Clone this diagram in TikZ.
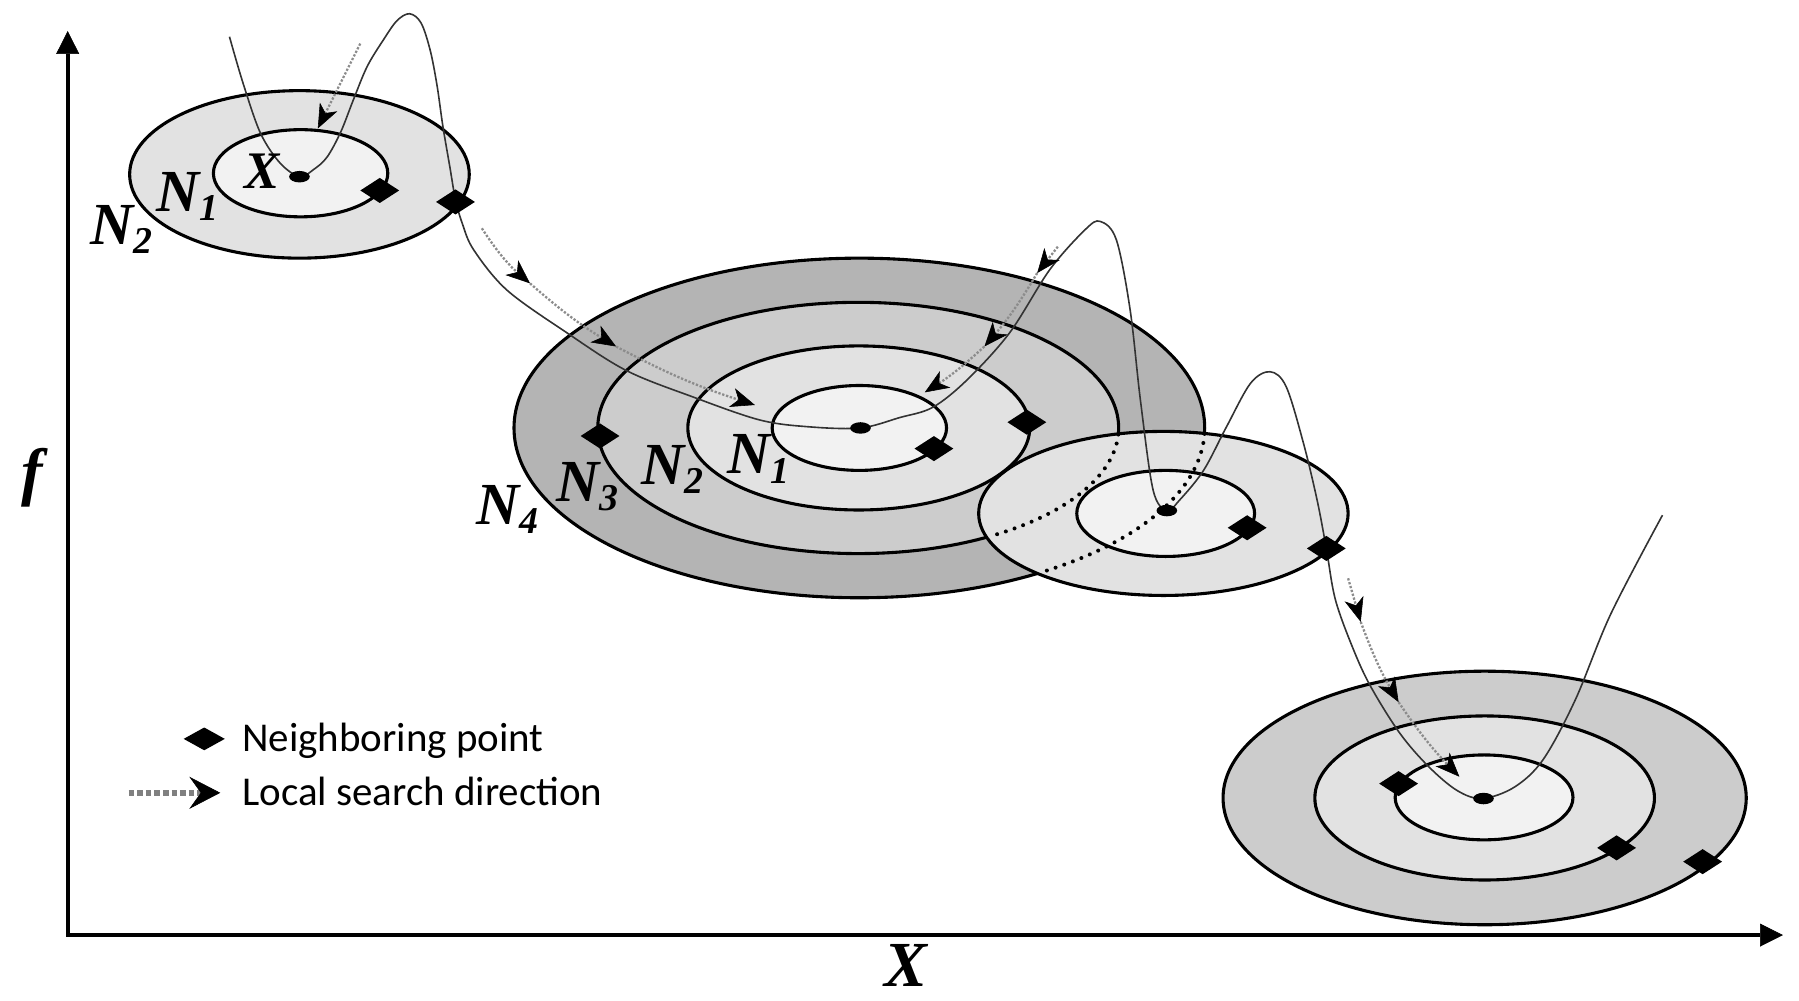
\documentclass[tikz,border=0pt]{standalone}
\usepackage{fontspec}
\setmainfont{Liberation Serif}
\newfontfamily\legendfont{Carlito}
\usetikzlibrary{arrows.meta,shapes.geometric}

\definecolor{ringA}{gray}{0.705}
\definecolor{ringB}{gray}{0.80}
\definecolor{ringC}{gray}{0.885}
\definecolor{ringD}{gray}{0.95}
\definecolor{curvecol}{gray}{0.2}
\definecolor{searchcol}{gray}{0.55}
\definecolor{legcol}{gray}{0.5}

\newcommand\Nlab[1]{\fontsize{52}{52}\selectfont\bfseries\itshape N\raisebox{-8pt}{\fontsize{33}{33}\selectfont #1}}

\begin{document}
\begin{tikzpicture}[x=1pt,y=-1pt,
  ring/.style={draw=black, line width=2.7pt},
  fnline/.style={draw=curvecol, line width=1.4pt},
  search/.style={draw=searchcol, line width=2pt, dash pattern=on 2pt off 1.5pt},
  searchtip/.style={-{Stealth[color=black,length=21pt,width=17pt,inset=6pt,line width=0.5pt]}},
  hidden/.style={draw=black, line width=3.5pt, line cap=round, dash pattern=on 0pt off 8pt},
  nbr/.style={diamond, fill=black, inner sep=0pt, minimum width=34pt, minimum height=22pt},
  ctr/.style={ellipse, fill=black, inner sep=0pt, minimum width=18pt, minimum height=10pt},
  lab/.style={inner sep=0pt, anchor=base west},
  axisline/.style={line width=3.5pt}
]
\useasboundingbox (0,0) rectangle (1568,872);

% axes
\coordinate (O) at (59,815);
\coordinate (ytip) at (59,27);
\coordinate (xtip) at (1554,815);
\draw[axisline, {Triangle[length=20pt,width=20pt,line width=0.5pt]}-{Triangle[length=20pt,width=20pt,line width=0.5pt]}] (ytip) -- (O) -- (xtip);

% group 1 (top left)
\filldraw[ring, fill=ringC] (261,152) ellipse [x radius=148pt, y radius=73pt];
\filldraw[ring, fill=ringD] (262,151) ellipse [x radius=76pt, y radius=38pt];

% group 2 (big)
\filldraw[ring, fill=ringA] (749,373) ellipse [x radius=301pt, y radius=148pt];
\filldraw[ring, fill=ringB] (748,373) ellipse [x radius=227pt, y radius=109.5pt];
\filldraw[ring, fill=ringC] (748.5,373) ellipse [x radius=149pt, y radius=71.5pt];
\filldraw[ring, fill=ringD] (749,373) ellipse [x radius=76pt, y radius=37pt];

% group 3 (small, overlapping)
\filldraw[ring, fill=ringC] (1014,447.5) ellipse [x radius=161pt, y radius=71.5pt];
\filldraw[ring, fill=ringD] (1016,447.5) ellipse [x radius=77.5pt, y radius=37.5pt];
% hidden parts of the big rings
\draw[hidden] (748,373) ++(-3:227pt and 109.5pt) arc[start angle=-3, end angle=-60, x radius=227pt, y radius=109.5pt];
\draw[hidden] (749,373) ++(-2:301pt and 148pt) arc[start angle=-2, end angle=-58.5, x radius=301pt, y radius=148pt];

% group 4 (bottom right)
\filldraw[ring, fill=ringB] (1294,695.5) ellipse [x radius=228pt, y radius=110.5pt];
\filldraw[ring, fill=ringC] (1294,695.5) ellipse [x radius=148pt, y radius=71.5pt];
\filldraw[ring, fill=ringD] (1293.5,695) ellipse [x radius=77.5pt, y radius=37pt];

% objective function curve
\draw[fnline] plot[smooth, tension=0.55] coordinates {(200,32) (212,73) (227,116) (244,142) (261,154) (273,148) (285,137) (297,115) (308,87) (320,58) (334,35) (346,18) (357,12) (367,20) (375,44) (381,75) (386,110) (392,145) (397,174) (403,195) (413,218) (442,253) (494,290) (546,323) (604,346) (662,366) (705,372) (750,373) (784,364) (813,355) (843,331) (880,290) (915,235) (946,200) (959,193) (973,209) (985,270) (994,349) (1005,427) (1017,445) (1028,436) (1049,410) (1069,372) (1090,334) (1107,324) (1121,337) (1136,386) (1148,436) (1156,478) (1164,523) (1180,567) (1195,599) (1220,639) (1245,668) (1270,689) (1292,696) (1320,686) (1345,662) (1373,610) (1404,535) (1449,449)};

% local search directions
\coordinate (s1a) at (314,38); \coordinate (s1b) at (277,112);
\draw[search, searchtip] (s1a) -- (s1b);

\coordinate (s2a) at (420,199); \coordinate (s2b) at (462,247);
\coordinate (s2c) at (537,302); \coordinate (s2d) at (658,353);
\draw[search, searchtip] (s2a) to[bend right=8] (s2b);
\draw[search, searchtip] (s2b) to[bend right=5] (s2c);
\draw[search, searchtip] (s2c) to[bend right=5] (s2d);

\coordinate (s3a) at (922,215); \coordinate (s3b) at (904,238);
\coordinate (s3c) at (858,302); \coordinate (s3d) at (806,342);
\draw[search, searchtip] (s3a) -- (s3b);
\draw[search, searchtip] (s3b) to[bend left=5] (s3c);
\draw[search, searchtip] (s3c) to[bend left=5] (s3d);

\coordinate (s4a) at (1175,504); \coordinate (s4b) at (1186,542);
\coordinate (s4c) at (1219,612); \coordinate (s4d) at (1272,677);
\draw[search, searchtip] (s4a) -- (s4b);
\draw[search, searchtip] (s4b) to[bend right=5] (s4c);
\draw[search, searchtip] (s4c) to[bend right=5] (s4d);

% centres
\node[ctr] (c1) at (261,154) {};
\node[ctr] (c2) at (750,373) {};
\node[ctr] (c3) at (1017,445) {};
\node[ctr] (c4) at (1293,696) {};

% neighboring points
\node[nbr] (d1) at (331,166) {};
\node[nbr] (d2) at (397,176) {};
\node[nbr] (d3) at (523,380) {};
\node[nbr] (d4) at (814,391) {};
\node[nbr] (d5) at (895,368) {};
\node[nbr] (d6) at (1087,460) {};
\node[nbr] (d7) at (1156,478) {};
\node[nbr] (d8) at (1219,683) {};
\node[nbr] (d9) at (1409,739) {};
\node[nbr] (d10) at (1484,751) {};

% labels
\node[lab] (xa) at (213,164) {\fontsize{46}{46}\selectfont\bfseries\itshape X};
\node[lab] (n1a) at (136,184) {\Nlab{1}};
\node[lab] (n2a) at (79,213) {\Nlab{2}};
\node[lab] (n4b) at (415,457) {\Nlab{4}};
\node[lab] (n3b) at (485,437) {\Nlab{3}};
\node[lab] (n2b) at (559,422) {\Nlab{2}};
\node[lab] (n1b) at (634,413) {\Nlab{1}};
\node[inner sep=0pt] (flab) at (28,416) {\fontsize{56}{56}\selectfont\bfseries\itshape f};
\node[inner sep=0pt, anchor=base] (xlab) at (790,860) {\fontsize{56}{56}\selectfont\bfseries\itshape X};

% legend
\node[nbr, minimum width=36pt, minimum height=20pt] (legd) at (178,644) {};
\node[lab] (legt1) at (211,655) {\legendfont\fontsize{35.7}{40}\selectfont Neighboring point};
\coordinate (lega) at (112,691);
\coordinate (legb) at (192,691);
\draw[draw=legcol, line width=5pt, dash pattern=on 5pt off 2.5pt, -{Stealth[color=black,length=27pt,width=28pt,inset=10pt,line width=0.5pt]}] (lega) -- (legb);
\node[lab] (legt2) at (211,702) {\legendfont\fontsize{35.7}{40}\selectfont Local search direction};
\end{tikzpicture}
\end{document}
